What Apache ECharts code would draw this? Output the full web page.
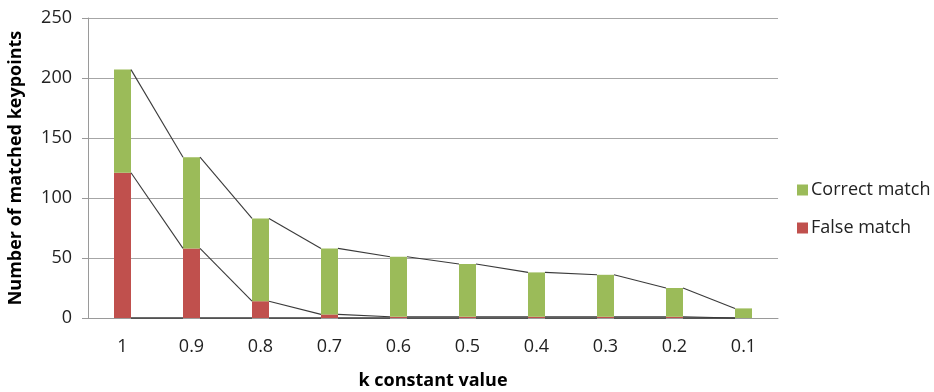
<!DOCTYPE html>
<html>
<head>
<meta charset="utf-8">
<script src="https://cdn.jsdelivr.net/npm/echarts@6/dist/echarts.min.js"></script>
<style>
html, body { margin: 0; padding: 0; background: #fff; }
#chart { width: 934px; height: 392px; }
</style>
</head>
<body>
<div id="chart"></div>
<script>
// k constant values along the category axis
const categories = ['1', '0.9', '0.8', '0.7', '0.6', '0.5', '0.4', '0.3', '0.2', '0.1'];
// matched keypoints per k value
const falseMatch = [121, 58, 14, 3, 1, 1, 1, 1, 1, 0];
const correctMatch = [86, 76, 69, 55, 50, 44, 37, 35, 24, 8];
const yTicks = [0, 50, 100, 150, 200, 250];

const FONT = '"Open Sans", "Noto Sans", sans-serif';
const BAR_W = 17;

// cumulative stack levels used for the series lines between columns
const levels = [
  categories.map(() => 0),
  falseMatch.slice(),
  falseMatch.map((v, i) => v + correctMatch[i])
];

// one segment per gap: from right edge of a column top to left edge of the next
const segData = [];
levels.forEach((lv, li) => {
  for (let i = 0; i < lv.length - 1; i++) {
    segData.push([i, lv[i], i + 1, lv[i + 1], li]);
  }
});

const chart = echarts.init(document.getElementById('chart'));
chart.setOption({
  animation: false,
  textStyle: { fontFamily: FONT },
  grid: { left: 88, top: 18, right: 156, bottom: 74, outerBoundsMode: 'none', containLabel: false },
  legend: {
    orient: 'vertical',
    left: 792,
    top: 176,
    itemWidth: 11,
    itemHeight: 11,
    itemGap: 20,
    icon: 'rect',
    textStyle: { fontSize: 18, color: '#222', fontFamily: FONT, padding: [0, 0, 0, -2] },
    data: ['Correct match', 'False match']
  },
  xAxis: {
    type: 'category',
    data: categories,
    name: 'k constant value',
    nameLocation: 'middle',
    nameGap: 54,
    nameTextStyle: { fontSize: 18, fontWeight: 'bold', color: '#000', fontFamily: FONT },
    axisLine: { lineStyle: { color: '#9a9a9a', width: 1 } },
    axisTick: { show: false },
    axisLabel: { fontSize: 18, color: '#222', margin: 20, fontFamily: FONT }
  },
  yAxis: {
    type: 'value',
    min: 0,
    max: 250,
    interval: 50,
    name: 'Number of matched keypoints',
    nameLocation: 'middle',
    nameGap: 63,
    nameTextStyle: { fontSize: 18, fontWeight: 'bold', color: '#000', fontFamily: FONT },
    axisLine: { show: true, lineStyle: { color: '#9a9a9a', width: 1 } },
    axisTick: { show: true, length: 6, lineStyle: { color: '#9a9a9a' } },
    axisLabel: { fontSize: 18, color: '#222', margin: 16, fontFamily: FONT,
      formatter: v => yTicks.includes(v) ? String(v) : '' },
    splitLine: { lineStyle: { color: '#a6a6a6', width: 1 } }
  },
  series: [
    {
      name: 'False match',
      type: 'bar',
      stack: 'k',
      barWidth: BAR_W,
      itemStyle: { color: '#C0504D' },
      data: falseMatch
    },
    {
      name: 'Correct match',
      type: 'bar',
      stack: 'k',
      barWidth: BAR_W,
      itemStyle: { color: '#9BBB59' },
      data: correctMatch
    },
    {
      name: 'series lines',
      type: 'custom',
      silent: true,
      z: 5,
      renderItem: function (params, api) {
        const a = api.coord([api.value(0), api.value(1)]);
        const b = api.coord([api.value(2), api.value(3)]);
        const half = BAR_W / 2;
        return {
          type: 'line',
          shape: { x1: a[0] + half, y1: a[1], x2: b[0] - half, y2: b[1] },
          style: { stroke: '#3a3a3a', lineWidth: api.value(4) === 0 ? 1.6 : 1.1 }
        };
      },
      encode: { x: [0, 2], y: [1, 3] },
      data: segData
    }
  ]
});
</script>
</body>
</html>
